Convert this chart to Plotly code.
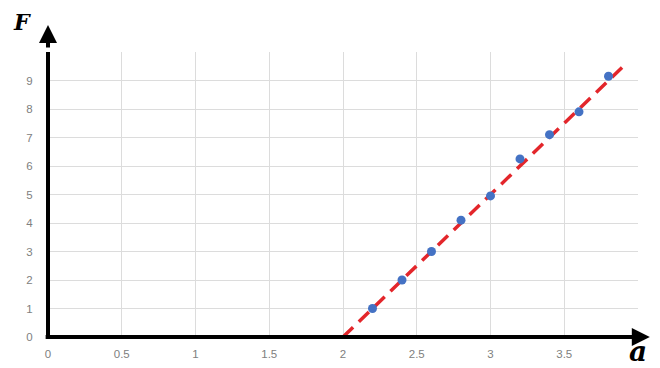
import plotly.graph_objects as go

a_vals = [2.2, 2.4, 2.6, 2.8, 3.0, 3.2, 3.4, 3.6, 3.8]
F_vals = [1.0, 2.0, 3.0, 4.1, 4.95, 6.25, 7.1, 7.9, 9.15]
fit_a = [2.0, 3.93]
fit_F = [0.0, 9.65]
x_ticks = [0, 0.5, 1, 1.5, 2, 2.5, 3, 3.5, 4]
x_labels = ["0", "0.5", "1", "1.5", "2", "2.5", "3", "3.5", ""]
y_ticks = [0, 1, 2, 3, 4, 5, 6, 7, 8, 9, 10]
y_labels = ["0", "1", "2", "3", "4", "5", "6", "7", "8", "9", ""]

fig = go.Figure()
fig.add_trace(go.Scatter(x=fit_a, y=fit_F, mode="lines",
                         line=dict(color="#E3262B", width=3.5, dash="14px,8px"),
                         cliponaxis=False))
fig.add_trace(go.Scatter(x=a_vals, y=F_vals, mode="markers",
                         marker=dict(color="#4472C4", size=9), cliponaxis=False))

grid = "#dcdcdc"
fig.update_layout(
    width=652, height=360,
    margin=dict(l=40, r=22, t=44, b=31, autoexpand=False),
    paper_bgcolor="white", plot_bgcolor="white",
    showlegend=False,
    font=dict(family="Liberation Sans", size=11.5, color="#808080"),
    xaxis=dict(range=[0, 4], tickvals=x_ticks, ticktext=x_labels, automargin=False,
               showgrid=True, gridcolor=grid, gridwidth=1, zeroline=False,
               showline=False, ticks="outside", ticklen=6, tickcolor="rgba(0,0,0,0)"),
    yaxis=dict(range=[0, 10], tickvals=y_ticks, ticktext=y_labels, automargin=False,
               showgrid=True, gridcolor=grid, gridwidth=1, zeroline=False,
               showline=False, ticks="outside", ticklen=12, tickcolor="rgba(0,0,0,0)"),
)

# axis arrows (drawn as lines plus arrow heads)
fig.add_shape(type="line", xref="paper", yref="paper", x0=-0.004, x1=1.0, y0=0, y1=0,
              line=dict(color="black", width=4))
fig.add_shape(type="line", xref="paper", yref="paper", x0=0, x1=0, y0=-0.007, y1=1.0,
              line=dict(color="black", width=4))
fig.add_annotation(x=1.02, y=0, ax=-30, ay=0, xref="paper", yref="paper",
                   axref="pixel", ayref="pixel",
                   text=" ", showarrow=True, arrowhead=2, arrowsize=0.9, arrowwidth=4,
                   arrowcolor="black", standoff=0)
fig.add_annotation(x=0, y=1.095, ax=0, ay=30, xref="paper", yref="paper",
                   axref="pixel", ayref="pixel",
                   text=" ", showarrow=True, arrowhead=2, arrowsize=0.9, arrowwidth=4,
                   arrowcolor="black", standoff=0)

fig.add_annotation(x=-0.044, y=1.105, xref="paper", yref="paper", text="<b><i>F</i></b>",
                   showarrow=False, xanchor="center", yanchor="middle",
                   font=dict(family="DejaVu Serif", size=22, color="black"))
fig.add_annotation(x=1.0, y=-0.05, xref="paper", yref="paper", text="<b><i>a</i></b>",
                   showarrow=False, xanchor="center", yanchor="middle",
                   font=dict(family="DejaVu Serif", size=28, color="black"))

fig.write_html("out.html")
